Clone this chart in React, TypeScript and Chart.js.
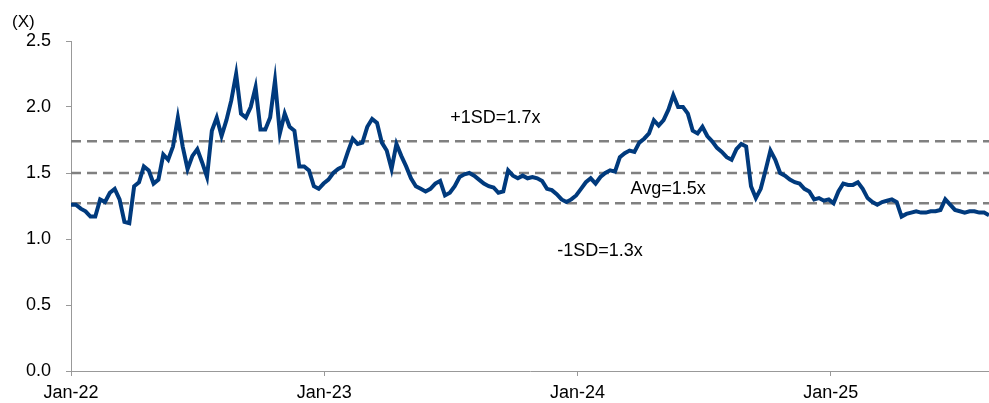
import React, { useEffect, useRef } from "react";
import { Chart, registerables } from "chart.js";

Chart.register(...registerables);

// Weekly P/B multiple (x), starting Jan-2022
const pbValues: number[] = [
  1.26, 1.26, 1.23, 1.21, 1.17, 1.17, 1.30, 1.28, 1.35, 1.38,
  1.30, 1.13, 1.12, 1.40, 1.43, 1.55, 1.52, 1.42, 1.45, 1.64,
  1.60, 1.70, 1.92, 1.70, 1.53, 1.63, 1.68, 1.58, 1.47, 1.82,
  1.92, 1.78, 1.90, 2.05, 2.25, 1.95, 1.92, 2.00, 2.15, 1.83,
  1.83, 1.92, 2.20, 1.80, 1.95, 1.85, 1.82, 1.55, 1.55, 1.52,
  1.40, 1.38, 1.42, 1.45, 1.50, 1.53, 1.55, 1.66, 1.76, 1.72,
  1.73, 1.85, 1.91, 1.88, 1.73, 1.67, 1.53, 1.72, 1.63, 1.55,
  1.46, 1.40, 1.38, 1.36, 1.38, 1.42, 1.44, 1.33, 1.35, 1.40,
  1.47, 1.49, 1.50, 1.48, 1.45, 1.42, 1.40, 1.39, 1.35, 1.36,
  1.52, 1.48, 1.46, 1.48, 1.46, 1.47, 1.46, 1.44, 1.38, 1.37,
  1.34, 1.30, 1.28, 1.30, 1.33, 1.38, 1.43, 1.46, 1.42, 1.47,
  1.50, 1.52, 1.51, 1.62, 1.65, 1.67, 1.66, 1.73, 1.76, 1.80,
  1.90, 1.86, 1.90, 1.98, 2.09, 2.00, 2.00, 1.95, 1.82, 1.80,
  1.85, 1.78, 1.74, 1.69, 1.66, 1.62, 1.60, 1.68, 1.72, 1.70,
  1.40, 1.31, 1.38, 1.52, 1.67, 1.60, 1.50, 1.48, 1.45, 1.43,
  1.42, 1.38, 1.36, 1.30, 1.31, 1.29, 1.30, 1.27, 1.36, 1.42,
  1.41, 1.41, 1.43, 1.38, 1.31, 1.28, 1.26, 1.28, 1.29, 1.30,
  1.28, 1.17, 1.19, 1.20, 1.21, 1.20, 1.20, 1.21, 1.21, 1.22,
  1.30, 1.26, 1.22, 1.21, 1.20, 1.21, 1.21, 1.20, 1.20, 1.18,
];

const plusSD = 1.74;
const avgValue = 1.5;
const minusSD = 1.27;

const xTickWeeks: number[] = [0, 52.14, 104.29, 156.43];
const xTickLabels: string[] = ["Jan-22", "Jan-23", "Jan-24", "Jan-25"];

const annotationTexts: string[] = ["+1SD=1.7x", "Avg=1.5x", "-1SD=1.3x"];
const annotationWeeks: number[] = [78.1, 115.2, 100.1];
const annotationLevels: number[] = [1.918, 1.382, 0.906];

const yUnitLabel = "(X)";

const FONT = "'Liberation Sans', Arial, sans-serif";

export default function App() {
  const ref = useRef<HTMLCanvasElement | null>(null);

  useEffect(() => {
    if (!ref.current) return;
    const n = pbValues.length;
    const mainData = pbValues.map((v, i) => ({ x: i, y: v }));
    const flat = (v: number) => [
      { x: 0, y: v },
      { x: n - 1, y: v },
    ];
    const dashStyle = {
      borderColor: "#808080",
      borderWidth: 2.5,
      borderDash: [10, 6],
      pointRadius: 0,
      fill: false,
    };

    const textPlugin = {
      id: "texts",
      afterDraw(chart: any) {
        const ctx = chart.ctx;
        const xs = chart.scales.x;
        const ys = chart.scales.y;
        ctx.save();
        ctx.fillStyle = "#000";
        ctx.font = `18px ${FONT}`;
        ctx.textBaseline = "middle";
        ctx.textAlign = "left";
        annotationTexts.forEach((t, i) => {
          ctx.fillText(t, xs.getPixelForValue(annotationWeeks[i]), ys.getPixelForValue(annotationLevels[i]));
        });
        ctx.font = `17px ${FONT}`;
        ctx.fillText(yUnitLabel, chart.chartArea.left - 59, chart.chartArea.top - 19);
        ctx.restore();
      },
    };

    const chart = new Chart(ref.current, {
      type: "line",
      data: {
        datasets: [
          {
            data: mainData,
            borderColor: "#003A7D",
            borderWidth: 4,
            pointRadius: 0,
            tension: 0,
            fill: false,
          },
          { data: flat(plusSD), ...dashStyle },
          { data: flat(avgValue), ...dashStyle },
          { data: flat(minusSD), ...dashStyle },
        ] as any,
      },
      options: {
        animation: false,
        responsive: false,
        layout: { padding: { top: 41, right: 0, bottom: 0, left: 0 } },
        plugins: {
          legend: { display: false },
          tooltip: { enabled: false },
        },
        scales: {
          x: {
            type: "linear",
            min: 0,
            max: n - 1,
            afterBuildTicks: (axis: any) => {
              axis.ticks = xTickWeeks.map((v) => ({ value: v }));
            },
            afterFit: (axis: any) => {
              axis.height = 32;
            },
            ticks: {
              autoSkip: false,
              maxRotation: 0,
              padding: 8,
              color: "#000",
              font: { family: FONT, size: 18, lineHeight: 1.0 },
              callback: (value: any) => {
                const idx = xTickWeeks.findIndex((w) => Math.abs(w - Number(value)) < 0.01);
                return idx >= 0 ? xTickLabels[idx] : "";
              },
            },
            grid: { drawOnChartArea: false, drawTicks: true, tickLength: 5, color: "#999" },
            border: { color: "#999", width: 1 },
          },
          y: {
            min: 0,
            max: 2.5,
            afterFit: (axis: any) => {
              axis.width = 71;
            },
            ticks: {
              stepSize: 0.5,
              padding: 15,
              color: "#000",
              font: { family: FONT, size: 18 },
              callback: (value: any) => Number(value).toFixed(1),
            },
            grid: { drawOnChartArea: false, drawTicks: true, tickLength: 5, color: "#999" },
            border: { color: "#999", width: 1 },
          },
        },
      },
      plugins: [textPlugin],
    });
    return () => chart.destroy();
  }, []);

  return (
    <div style={{ position: "fixed", left: 0, top: 0, width: 989, height: 403, background: "#fff" }}>
      <canvas ref={ref} width={989} height={403} />
    </div>
  );
}
